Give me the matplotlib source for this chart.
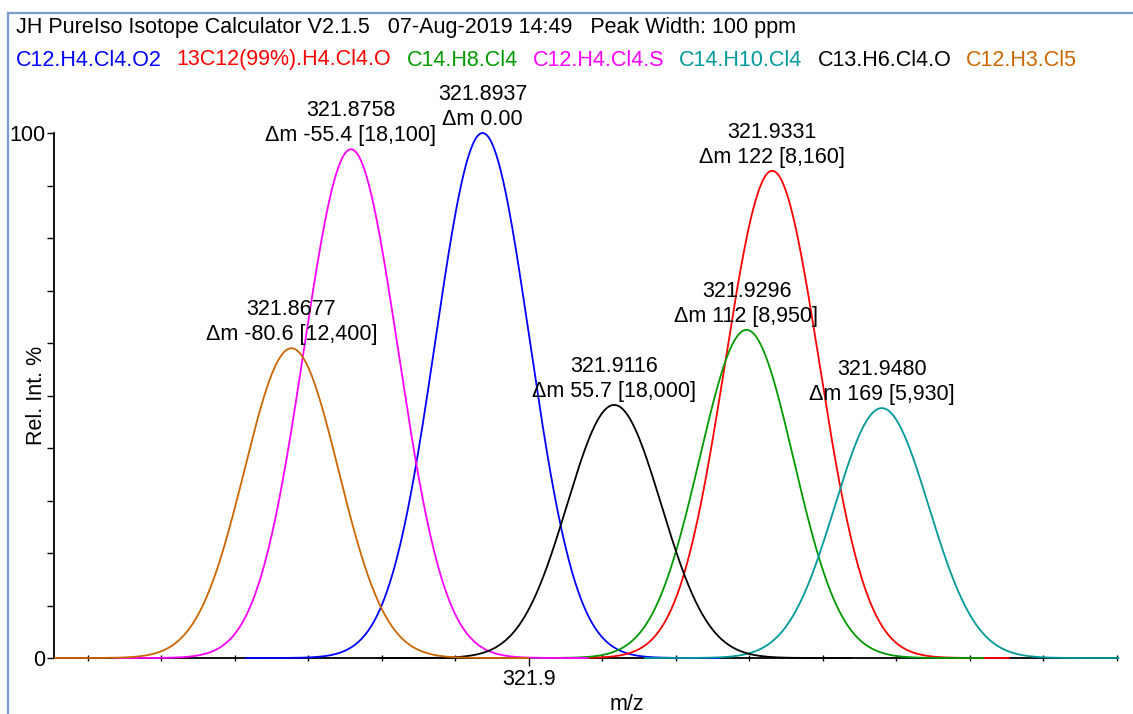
import matplotlib
matplotlib.use("Agg")
import matplotlib.pyplot as plt
from matplotlib.lines import Line2D
from matplotlib.ticker import MultipleLocator, FixedLocator
import numpy as np

plt.rcParams['font.family'] = ['Liberation Sans', 'DejaVu Sans']

# peak list (centroid m/z, relative intensity, labels)
formulas = ["C12.H4.Cl4.O2", "13C12(99%).H4.Cl4.O", "C14.H8.Cl4", "C12.H4.Cl4.S",
            "C14.H10.Cl4", "C13.H6.Cl4.O", "C12.H3.Cl5"]
colors = ["#0000ff", "#ff0000", "#009900", "#ff00ff", "#009999", "#000000", "#cc6600"]
peak_mz = [321.8937, 321.9331, 321.9296, 321.8758, 321.9480, 321.9116, 321.8677]
peak_int = [100.0, 92.8, 62.5, 96.9, 47.6, 48.2, 59.0]
delta_txt = ["Δm 0.00", "Δm 122 [8,160]", "Δm 112 [8,950]", "Δm -55.4 [18,100]",
             "Δm 169 [5,930]", "Δm 55.7 [18,000]", "Δm -80.6 [12,400]"]

peak_width_ppm = 100
sigma = 0.0064  # gaussian sigma in m/z, read from the peak shapes

title = "JH PureIso Isotope Calculator V2.1.5   07-Aug-2019 14:49   Peak Width: 100 ppm"

W, H = 1133, 714
fig = plt.figure(figsize=(W / 100, H / 100), dpi=100)
ax = fig.add_axes([54 / W, 56 / H, 1063 / W, 525 / H])

fs = 15.5
for mz, h, col, dt in zip(peak_mz, peak_int, colors, delta_txt):
    half = mz * peak_width_ppm * 1e-6
    x = np.linspace(mz - half, mz + half, 400)
    y = h * np.exp(-0.5 * ((x - mz) / sigma) ** 2)
    ax.plot(x, y, color=col, lw=1.3, clip_on=False, zorder=3)
    ax.annotate(f"{mz:.4f}\n{dt}", xy=(mz, h), xytext=(0, 2), textcoords="offset points",
                ha="center", va="bottom", fontsize=fs, linespacing=1.25)

ax.set_xlim(321.8354, 321.98)
ax.set_ylim(0, 100)
for s in ["top", "right"]:
    ax.spines[s].set_visible(False)
for s in ["left", "bottom"]:
    ax.spines[s].set_linewidth(1.3)
    ax.spines[s].set_zorder(1)

ax.yaxis.set_major_locator(FixedLocator([0, 100]))
ax.yaxis.set_minor_locator(MultipleLocator(10))
ax.tick_params(axis="y", which="both", direction="out", length=5, width=1, labelsize=fs, pad=1)
ax.xaxis.set_major_locator(FixedLocator([321.9]))
ax.xaxis.set_major_formatter(lambda v, p: "321.9")
ax.xaxis.set_minor_locator(MultipleLocator(0.01))
ax.tick_params(axis="x", which="major", direction="out", length=6, width=1, labelsize=fs, pad=2)
ax.tick_params(axis="x", which="minor", direction="inout", length=4, width=1)

ax.set_ylabel("Rel. Int. %", fontsize=fs)
ax.yaxis.set_label_coords(-17 / 1063, 0.5)
ax.set_xlabel("m/z", fontsize=fs)
ax.xaxis.set_label_coords((627 - 54) / 1063, -46 / 525)
ax.xaxis.label.set_va("center")
ax.yaxis.label.set_va("center")

# header lines
fig.text(16 / W, 1 - 28 / H, title, fontsize=fs, va="center", ha="left")
renderer = fig.canvas.get_renderer()
xpos = 16
for f, col in zip(formulas, colors):
    t = fig.text(xpos / W, 1 - 60 / H, f, color=col, fontsize=fs, va="center", ha="left")
    bb = t.get_window_extent(renderer)
    xpos = bb.x1 + 15

# light blue frame of the window
fig.add_artist(Line2D([8 / W, 8 / W], [0, 1 - 13 / H], color="#7a9cd3", lw=1.6))
fig.add_artist(Line2D([8 / W, 1], [1 - 13 / H, 1 - 13 / H], color="#7a9cd3", lw=1.6))

fig.savefig("out.png", dpi=100)
